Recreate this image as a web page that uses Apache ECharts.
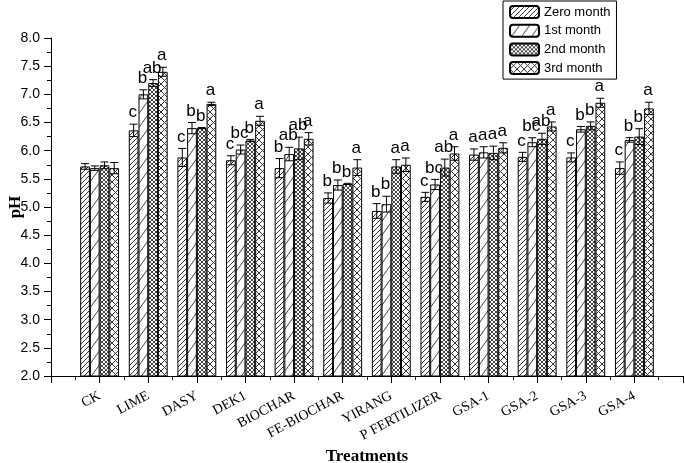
<!DOCTYPE html>
<html>
<head>
<meta charset="utf-8">
<script src="https://cdn.jsdelivr.net/npm/echarts@6/dist/echarts.min.js"></script>
<style>html,body{margin:0;padding:0;background:#fff;}#chart{width:685px;height:463px;}</style>
</head>
<body>
<div id="chart"></div>
<script>
const categories = ['CK','LIME','DASY','DEK1','BIOCHAR','FE-BIOCHAR','YIRANG','P FERTILIZER','GSA-1','GSA-2','GSA-3','GSA-4'];
const seriesNames = ['Zero month','1st month','2nd month','3rd month'];
const zeroMonth   = [5.72, 6.36, 5.88, 5.83, 5.69, 5.16, 4.93, 5.18, 5.93, 5.89, 5.88, 5.69];
const firstMonth  = [5.69, 7.00, 6.40, 6.02, 5.94, 5.39, 5.05, 5.40, 5.97, 6.15, 6.38, 6.19];
const secondMonth = [5.74, 7.20, 6.40, 6.18, 6.04, 5.41, 5.72, 5.70, 5.96, 6.21, 6.44, 6.25];
const thirdMonth  = [5.69, 7.40, 6.83, 6.53, 6.21, 5.70, 5.75, 5.95, 6.05, 6.43, 6.85, 6.75];
const zeroErr   = [0.05, 0.11, 0.16, 0.08, 0.17, 0.09, 0.13, 0.08, 0.10, 0.08, 0.08, 0.11];
const firstErr  = [0.04, 0.08, 0.10, 0.08, 0.12, 0.09, 0.14, 0.09, 0.10, 0.08, 0.05, 0.04];
const secondErr = [0.06, 0.06, 0.01, 0.02, 0.20, 0.01, 0.12, 0.15, 0.12, 0.10, 0.07, 0.14];
const thirdErr  = [0.10, 0.08, 0.03, 0.08, 0.11, 0.14, 0.12, 0.12, 0.09, 0.08, 0.08, 0.11];
const zeroLetters   = ['', 'c', 'c', 'c', 'b', 'b', 'b', 'c', 'a', 'c', 'c', 'c'];
const firstLetters  = ['', 'b', 'b', 'bc', 'ab', 'b', 'b', 'bc', 'a', 'bc', 'b', 'b'];
const secondLetters = ['', 'ab', 'b', 'b', 'ab', 'b', 'a', 'ab', 'a', 'ab', 'b', 'b'];
const thirdLetters  = ['', 'a', 'a', 'a', 'a', 'a', 'a', 'a', 'a', 'a', 'a', 'a'];
const yTicks = ['2.0','2.5','3.0','3.5','4.0','4.5','5.0','5.5','6.0','6.5','7.0','7.5','8.0'];

const BW = 9.72;

function pattern(w, h, dirs, lw, color) {
  const c = document.createElement('canvas');
  c.width = w; c.height = h;
  const g = c.getContext('2d');
  g.fillStyle = '#fff'; g.fillRect(0, 0, w, h);
  g.strokeStyle = color; g.lineWidth = lw;
  for (const d of dirs) {
    for (let k = -1; k <= 1; k++) {
      g.beginPath();
      if (d === '/') { g.moveTo(k * w, h); g.lineTo(k * w + w, 0); }
      else { g.moveTo(k * w, 0); g.lineTo(k * w + w, h); }
      g.stroke();
    }
  }
  return { image: c, repeat: 'repeat' };
}

const fills = [
  pattern(5, 5, ['/'], 1, '#333'),
  pattern(10, 14, ['/'], 1, '#444'),
  pattern(4, 4, ['/', '\\'], 1, '#444'),
  pattern(7, 7, ['/', '\\'], 1, '#333')
];

const values = [zeroMonth, firstMonth, secondMonth, thirdMonth];
const errs = [zeroErr, firstErr, secondErr, thirdErr];
const letters = [zeroLetters, firstLetters, secondLetters, thirdLetters];

const series = [];
values.forEach((vals, k) => {
  series.push({
    name: seriesNames[k],
    type: 'bar',
    barWidth: BW,
    barGap: '0%',
    data: vals.map((v, i) => [i + 1, v]),
    itemStyle: { color: fills[k], borderColor: '#000', borderWidth: 1 },
    z: 2
  });
});
values.forEach((vals, k) => {
  series.push({
    type: 'custom',
    silent: true,
    z: 5,
    data: vals.map((v, i) => [i + 1, v]),
    encode: { x: 0, y: 1 },
    renderItem: function (params, api) {
      const i = params.dataIndex;
      const x = api.value(0), v = api.value(1), e = errs[k][i];
      const top = api.coord([x, v + e]);
      const bot = api.coord([x, v - e]);
      const cx = top[0] + (k - 1.5) * BW;
      const st = { stroke: '#000', lineWidth: 1 };
      const children = [
        { type: 'line', shape: { x1: cx, y1: top[1], x2: cx, y2: bot[1] }, style: st },
        { type: 'line', shape: { x1: cx - 4, y1: top[1], x2: cx + 4, y2: top[1] }, style: st },
        { type: 'line', shape: { x1: cx - 4, y1: bot[1], x2: cx + 4, y2: bot[1] }, style: st }
      ];
      const t = letters[k][i];
      if (t) {
        children.push({
          type: 'text',
          style: { text: t, x: cx - 1, y: top[1] - 3, align: 'center', verticalAlign: 'bottom',
                   fill: '#000', font: '17px "Liberation Sans", Arial, sans-serif' }
        });
      }
      return { type: 'group', children: children };
    }
  });
});

const chart = echarts.init(document.getElementById('chart'), null, { renderer: 'canvas' });
chart.setOption({
  animation: false,
  backgroundColor: '#fff',
  grid: { left: 51, right: 2, top: 38, bottom: 87, containLabel: false, outerBoundsMode: 'none' },
  legend: {
    data: seriesNames,
    orient: 'vertical',
    left: 503, top: 1,
    itemWidth: 29, itemHeight: 12, itemGap: 4.7,
    padding: [4, 6, 4, 6],
    borderColor: '#000', borderWidth: 1, borderRadius: 0,
    selectedMode: false,
    textStyle: { fontSize: 13, color: '#000', fontFamily: '"Liberation Sans", Arial, sans-serif', lineHeight: 12 }
  },
  xAxis: {
    type: 'value',
    min: 0, max: 13, interval: 1,
    name: 'Treatments',
    nameLocation: 'middle',
    nameGap: 72,
    nameMoveOverlap: false,
    nameTextStyle: { fontSize: 17, fontWeight: 'bold', color: '#000', fontFamily: '"Liberation Serif", "Times New Roman", serif' },
    axisLine: { show: true, lineStyle: { color: '#000', width: 1 } },
    axisTick: { show: true, inside: false, length: 7, lineStyle: { color: '#000' } },
    minorTick: { show: true, splitNumber: 2, length: 4, lineStyle: { color: '#000' } },
    splitLine: { show: false },
    axisLabel: {
      rotate: 28, margin: 19, fontSize: 14, color: '#000',
      fontFamily: '"Liberation Serif", "Times New Roman", serif',
      formatter: function (v) { return (v >= 1 && v <= categories.length) ? categories[v - 1] : ''; }
    }
  },
  yAxis: {
    type: 'value',
    min: 2, max: 8, interval: 0.5,
    name: 'pH',
    nameLocation: 'middle',
    nameGap: 27,
    nameMoveOverlap: false,
    nameTextStyle: { fontSize: 17, fontWeight: 'bold', color: '#000', fontFamily: '"Liberation Serif", "Times New Roman", serif' },
    axisLine: { show: true, lineStyle: { color: '#000', width: 1 } },
    axisTick: { show: true, inside: false, length: 7, lineStyle: { color: '#000' } },
    minorTick: { show: true, splitNumber: 2, length: 4, lineStyle: { color: '#000' } },
    splitLine: { show: false },
    axisLabel: {
      margin: 11, fontSize: 14, color: '#000',
      fontFamily: '"Liberation Sans", Arial, sans-serif',
      formatter: function (v) { const idx = Math.round((v - 2) / 0.5); return yTicks[idx] || ''; }
    }
  },
  series: series
});
</script>
</body>
</html>
